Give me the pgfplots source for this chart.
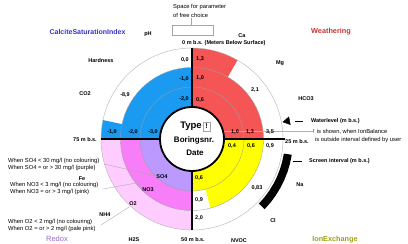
\documentclass[border=0pt]{standalone}
\usepackage{pgfplots}
\pgfplotsset{compat=1.18}
\usepackage{fontspec}
\setmainfont{Liberation Sans}
\definecolor{cblue}{RGB}{26,154,240}
\definecolor{cred}{RGB}{245,85,85}
\definecolor{cyel}{RGB}{255,255,0}
\definecolor{cpurp}{RGB}{187,153,255}
\definecolor{cmag}{RGB}{248,125,248}
\definecolor{cpale}{RGB}{255,204,255}
\definecolor{tblue}{RGB}{51,51,204}
\definecolor{tred}{RGB}{204,51,51}
\definecolor{tpurp}{RGB}{153,102,204}
\definecolor{tolive}{RGB}{160,160,20}
\newcommand{\sm}{\fontsize{5.5}{6}\selectfont\bfseries}
\newcommand{\rg}{\fontsize{5.8}{6.5}\selectfont}
\begin{document}
\begin{tikzpicture}
\useasboundingbox (0,0) rectangle (408pt,244pt);
\begin{axis}[at={(0,0)}, anchor=south west, scale only axis, width=408pt, height=244pt,
  xmin=-192, xmax=216, ymin=-105, ymax=139, hide axis, clip=false]
% Redox quadrant: O2 (pale pink), NO3 (pink), SO4 (purple)
\addplot[fill=cpale, draw=none, data cs=polar] coordinates {(0,0) (180,91) (185,91) (190,91) (195,91) (200,91) (205,91) (210,91) (215,91) (220,91) (225,91) (230,91) (235,91) (240,91) (245,91) (250,91) (255,91) (260,91) (265,91) (270,91)};
\addplot[fill=cmag, draw=none, data cs=polar] coordinates {(0,0) (180,71.5) (185,71.5) (190,71.5) (195,71.5) (200,71.5) (205,71.5) (210,71.5) (215,71.5) (220,71.5) (225,71.5) (230,71.5) (235,71.5) (240,71.5) (245,71.5) (250,71.5) (255,71.5) (260,71.5) (265,71.5) (270,71.5)};
\addplot[fill=cpurp, draw=none, data cs=polar] coordinates {(0,0) (180,52) (185,52) (190,52) (195,52) (200,52) (205,52) (210,52) (215,52) (220,52) (225,52) (230,52) (235,52) (240,52) (245,52) (250,52) (255,52) (260,52) (265,52) (270,52)};
% Calcite saturation index (blue)
\addplot[fill=cblue, draw=none, data cs=polar] coordinates {(0,0) (90,71.5) (95,71.5) (100,71.5) (105,71.5) (110,71.5) (115,71.5) (120,71.5) (125,71.5) (130,71.5) (135,71.5) (140,71.5) (145,71.5) (150,71.5) (155,71.5) (160,71.5) (165,71.5) (168,71.5) (168,91) (170,91) (175,91) (180,91)};
% Weathering (red)
\addplot[fill=cred, draw=none, data cs=polar] coordinates {(0,0) (90,91) (85,91) (80,91) (75,91) (70,91) (65,91) (60,91) (60,71.5) (55,71.5) (50,71.5) (45,71.5) (40,71.5) (35,71.5) (30,71.5) (25,71.5) (20,71.5) (15,71.5) (10,71.5) (5,71.5) (0,71.5)};
% Ion exchange (yellow)
\addplot[fill=cyel, draw=none, data cs=polar] coordinates {(0,0) (0,71.5) (-5,71.5) (-10,71.5) (-15,71.5) (-20,71.5) (-25,71.5) (-30,71.5) (-35,71.5) (-40,71.5) (-45,71.5) (-50,71.5) (-55,71.5) (-60,71.5) (-65,71.5) (-70,71.5) (-75,71.5) (-75,52) (-80,52) (-85,52) (-90,52)};
% Screen interval
\addplot[fill=black, draw=none, data cs=polar] coordinates {(-9,101) (-14,101) (-19,101) (-24,101) (-29,101) (-34,101) (-39,101) (-44,101) (-44,93) (-39,93) (-34,93) (-29,93) (-24,93) (-19,93) (-14,93) (-9,93)};
% Waterlevel
\addplot[only marks, mark=triangle*, mark size=4.5pt, mark options={rotate=100.6, fill=black, draw=black}, data cs=polar] coordinates {(10.6,97)};
\end{axis}
\begin{scope}[x=1pt,y=-1pt,yshift=244pt]
% rings
\draw[gray!75, line width=0.35pt] (192,139) circle[radius=52pt];
\draw[gray!75, line width=0.35pt] (192,139) circle[radius=71.5pt];
\draw[gray!60, line width=0.4pt] (192,139) circle[radius=91pt];
% spokes
\draw[line width=1.8pt] (192,48) -- (192,110);
\draw[line width=1.8pt] (192,168) -- (192,230);
\draw[line width=1.8pt] (101,139) -- (165,139);
\draw[line width=1.8pt] (220,139) -- (285,139);
% leader for '!'
\draw[gray!60, line width=0.35pt] (210,131.5) -- (313,131.5);
% inner circle
\draw[fill=white, line width=1.8pt] (192,139) circle[radius=32pt];
\node[font=\fontsize{9.5}{10}\selectfont\bfseries] at (191,126) {Type};
\draw[gray!70, line width=0.4pt, fill=white] (203,122) rectangle (210,131);
\node[font=\fontsize{7}{8}\selectfont\bfseries] at (206.5,126.5) {!};
\node[font=\fontsize{8}{9}\selectfont\bfseries] at (194,140) {Boringsnr.};
\node[font=\fontsize{8}{9}\selectfont\bfseries] at (195,153) {Date};
% space for parameter
\node[anchor=west, font=\rg, inner sep=0] at (173,7) {Space for parameter};
\node[anchor=west, font=\rg, inner sep=0] at (173,15) {of free choice};
\draw[gray!70, line width=0.4pt] (191,18) -- (191,25);
\draw[gray!70, line width=0.4pt] (172,25) rectangle (213,35);
% titles
\node[font=\fontsize{7}{8}\selectfont\bfseries, text=tblue] at (87.5,32) {CalciteSaturationIndex};
\node[font=\fontsize{7.3}{8}\selectfont\bfseries, text=tred] at (331,32) {Weathering};
\node[font=\fontsize{7.5}{8}\selectfont, text=tpurp] at (57,239) {Redox};
\node[font=\fontsize{7.3}{8}\selectfont\bfseries, text=tolive] at (335,240) {IonExchange};
% depth labels
\node[anchor=west, font=\sm, inner sep=0] at (182,43) {0 m b.s. (Meters Below Surface)};
\node[font=\sm] at (297,142) {25 m b.s.};
\node[font=\sm] at (193,240) {50 m b.s.};
\node[font=\sm] at (85,140) {75 m b.s.};
% parameter labels
\node[font=\sm] at (148,34) {pH};
\node[font=\sm] at (242,36) {Ca};
\node[font=\sm] at (101,61) {Hardness};
\node[font=\sm] at (280,63) {Mg};
\node[font=\sm] at (85,94) {CO2};
\node[font=\sm] at (306,99) {HCO3};
\node[font=\sm] at (300,185) {Na};
\node[font=\sm] at (273,221) {Cl};
\node[font=\sm] at (82,179) {Fe};
\node[font=\sm] at (105,215) {NH4};
\node[font=\sm] at (134,240) {H2S};
\node[font=\sm] at (239,240.5) {NVOC};
\node[font=\sm] at (162,177) {SO4};
\node[font=\sm] at (148,190) {NO3};
\node[font=\sm] at (133,204) {O2};
% scale labels
\node[anchor=east, font=\sm, inner sep=0] at (189,60) {0,0};
\node[anchor=east, font=\sm, inner sep=0] at (189,79) {-1,0};
\node[anchor=east, font=\sm, inner sep=0] at (189,99) {-2,0};
\node[anchor=west, font=\sm, inner sep=0] at (196,59) {1,3};
\node[anchor=west, font=\sm, inner sep=0] at (196,78) {1,0};
\node[anchor=west, font=\sm, inner sep=0] at (196,100) {0,6};
\node[font=\sm] at (112,132) {-1,0};
\node[font=\sm] at (133,132) {-2,0};
\node[font=\sm] at (153,132) {-3,0};
\node[font=\sm] at (235,132) {1,0};
\node[font=\sm] at (250,132) {1,3};
\node[font=\sm] at (270,132) {3,5};
\node[font=\sm] at (232,146) {0,4};
\node[font=\sm] at (251,146) {0,6};
\node[font=\sm] at (270,146) {0,9};
\node[anchor=west, font=\sm, inner sep=0] at (195,178) {0,6};
\node[anchor=west, font=\sm, inner sep=0] at (195,200) {0,9};
\node[anchor=west, font=\sm, inner sep=0] at (195,218) {2,0};
\node[font=\sm] at (125,95) {-8,9};
\node[font=\sm] at (255,90) {2,1};
\node[font=\sm] at (257,188) {0,83};
% legends right
\draw[line width=1pt] (295,122) -- (303,122);
\node[anchor=west, font=\sm, inner sep=0] at (311,121) {Waterlevel (m b.s.)};
\node[anchor=west, font=\rg, inner sep=0] at (313,132) {! is shown, when IonBalance};
\node[anchor=west, font=\rg, inner sep=0] at (315,140) {is outside interval defined by user};
\draw[line width=1pt] (293,162) -- (302,162);
\node[anchor=west, font=\sm, inner sep=0] at (309,161) {Screen interval (m b.s.)};
% redox annotations
\node[anchor=west, font=\rg, inner sep=0] at (8,161) {When SO4 < 30 mg/l (no colouring)};
\node[anchor=west, font=\rg, inner sep=0] at (8,168) {When SO4 = or > 30 mg/l (purple)};
\node[anchor=west, font=\rg, inner sep=0] at (10,185) {When NO3 < 3 mg/l (no colouring)};
\node[anchor=west, font=\rg, inner sep=0] at (10,192) {When NO3 = or > 3 mg/l (pink)};
\node[anchor=west, font=\rg, inner sep=0] at (8,222) {When O2 < 2 mg/l (no colouring)};
\node[anchor=west, font=\rg, inner sep=0] at (8,229) {When O2 = or > 2 mg/l (pale pink)};
\draw[gray!70, line width=0.35pt] (104,164) -- (156,176);
\draw[gray!70, line width=0.35pt] (103,189) -- (142,182);
\draw[gray!70, line width=0.35pt] (101,225) -- (129,207);
\end{scope}
\end{tikzpicture}
\end{document}
